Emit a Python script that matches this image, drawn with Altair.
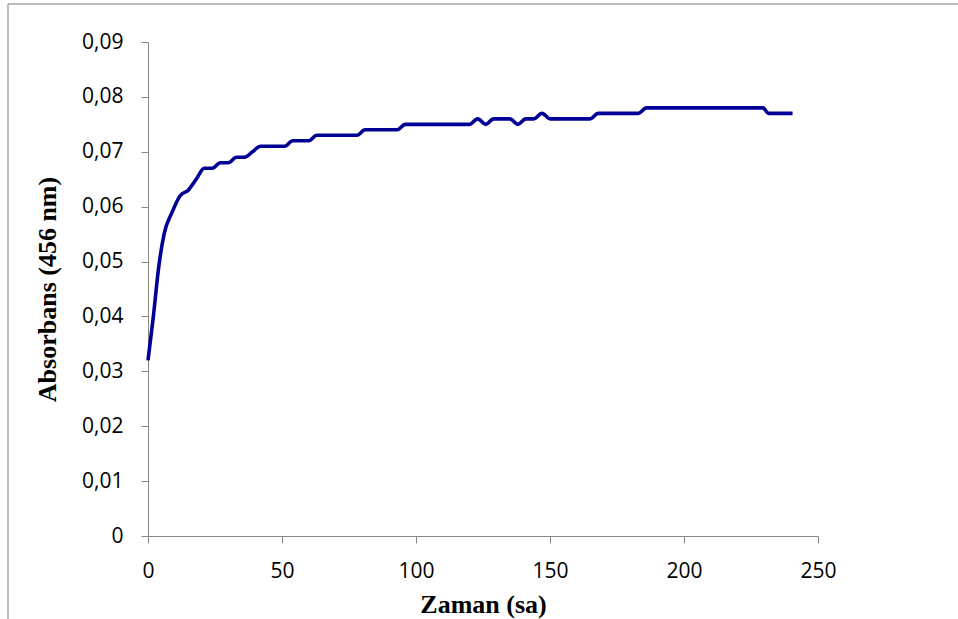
import altair as alt
import pandas as pd

# Absorbance at 456 nm recorded over time (hours)
hours = [0, 2, 4, 6, 9, 12, 15, 18, 21, 24, 27, 30, 33, 36, 39, 42, 45, 48, 51,
         54, 57, 60, 63, 66, 69, 72, 75, 78, 81, 84, 87, 90, 93, 96, 99, 105,
         110, 115, 120, 123, 126, 129, 132, 135, 138, 141, 144, 147, 150, 155,
         160, 165, 168, 171, 175, 180, 183, 186, 190, 200, 210, 220, 229.5,
         231.5, 235, 240.5]
absorbance = [0.032, 0.040, 0.049, 0.055, 0.059, 0.062, 0.063, 0.065, 0.067,
              0.067, 0.068, 0.068, 0.069, 0.069, 0.070, 0.071, 0.071, 0.071,
              0.071, 0.072, 0.072, 0.072, 0.073, 0.073, 0.073, 0.073, 0.073,
              0.073, 0.074, 0.074, 0.074, 0.074, 0.074, 0.075, 0.075, 0.075,
              0.075, 0.075, 0.075, 0.076, 0.075, 0.076, 0.076, 0.076, 0.075,
              0.076, 0.076, 0.077, 0.076, 0.076, 0.076, 0.076, 0.077, 0.077,
              0.077, 0.077, 0.077, 0.078, 0.078, 0.078, 0.078, 0.078, 0.078,
              0.077, 0.077, 0.077]

x_ticks = [0, 50, 100, 150, 200, 250]
y_ticks = [0, 0.01, 0.02, 0.03, 0.04, 0.05, 0.06, 0.07, 0.08, 0.09]

df = pd.DataFrame({"Zaman": hours, "Absorbans": absorbance})

AXIS_GREY = "#868686"
LABEL_FONT = "Open Sans"
TITLE_FONT = "Liberation Serif"

line = alt.Chart(df).mark_line(
    color="#000096", strokeWidth=3.6, interpolate="monotone"
).encode(
    x=alt.X(
        "Zaman:Q",
        scale=alt.Scale(domain=[0, 250], nice=False),
        axis=alt.Axis(
            values=x_ticks, title="Zaman (sa)", grid=False, labelFlush=False,
            domainColor=AXIS_GREY, tickColor=AXIS_GREY, tickSize=7,
            labelPadding=17, labelFont=LABEL_FONT, labelFontSize=21,
            labelColor="black",
            titleFont=TITLE_FONT, titleFontSize=26, titleFontWeight="bold",
            titleColor="black", titleX=335, titleY=68,
            titleAlign="center", titleBaseline="middle",
        ),
    ),
    y=alt.Y(
        "Absorbans:Q",
        scale=alt.Scale(domain=[0, 0.09], nice=False),
        axis=alt.Axis(
            values=y_ticks, title="Absorbans (456 nm)", grid=False,
            labelFlush=False,
            labelExpr="datum.value == 0 ? '0' : replace(format(datum.value, '.2f'), '.', ',')",
            domainColor=AXIS_GREY, tickColor=AXIS_GREY, tickSize=7,
            labelPadding=18, labelFont=LABEL_FONT, labelFontSize=21,
            labelColor="black",
            titleFont=TITLE_FONT, titleFontSize=26, titleFontWeight="bold",
            titleColor="black", titleAngle=270, titleX=-101, titleY=247,
            titleAlign="center", titleBaseline="middle",
        ),
    ),
)

# Light frame along the left and top edges of the figure
one_row = alt.Data(values=[{}])
frame_left = alt.Chart(one_row).mark_rule(color="#a6a6a6", strokeWidth=1.5).encode(
    x=alt.value(-140), x2=alt.value(-140), y=alt.value(-38), y2=alt.value(600)
)
frame_top = alt.Chart(one_row).mark_rule(color="#a6a6a6", strokeWidth=1.5).encode(
    x=alt.value(-140), x2=alt.value(830), y=alt.value(-38), y2=alt.value(-38)
)

chart = alt.layer(frame_left, frame_top, line).properties(
    width=670,
    height=494,
    background="white",
    autosize=alt.AutoSizeParams(type="none"),
    padding={"left": 148, "top": 42, "right": 140, "bottom": 83},
).configure_view(stroke=None)

chart.save("out.html", embed_options={"renderer": "svg", "actions": False})
